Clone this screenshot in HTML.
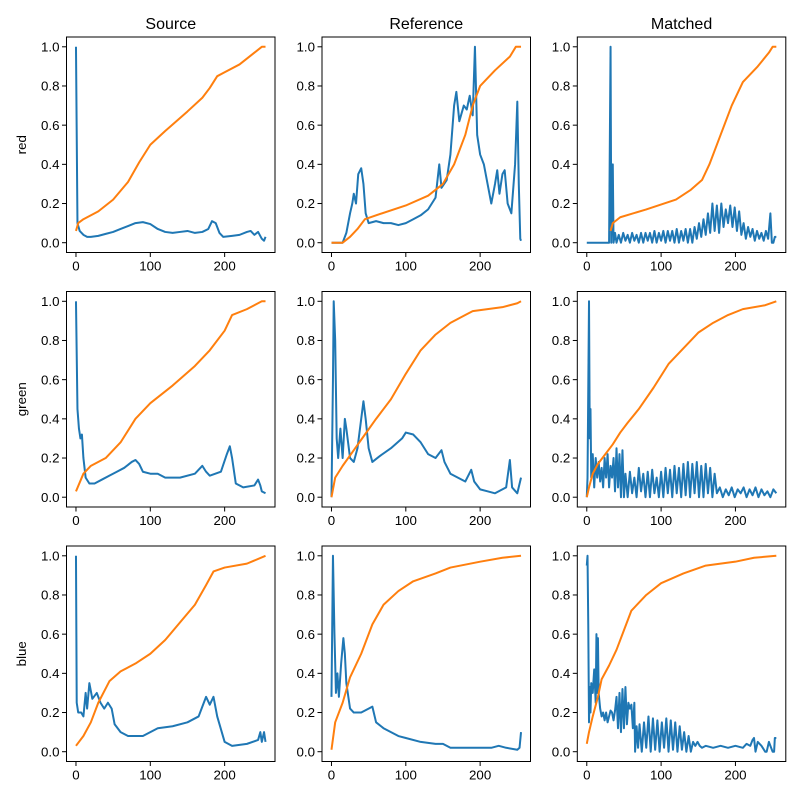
<!DOCTYPE html>
<html><head><meta charset="utf-8"><style>
body{margin:0;background:#fff}
svg text{font-family:"Liberation Sans","DejaVu Sans",sans-serif;fill:#000}
</style></head><body>
<svg id="fig" width="800" height="800" xmlns="http://www.w3.org/2000/svg"></svg>
<script>
// ---- data ----
const colTitles = ["Source","Reference","Matched"];
const rowLabels = ["red","green","blue"];
const xTicks = [0,100,200];
const yTicks = [0.0,0.2,0.4,0.6,0.8,1.0];

const srcRedHx = [0,2,5,10,15,20,30,40,50,60,70,80,90,100,110,120,130,140,150,160,170,178,183,188,193,198,210,220,230,235,240,245,250,253,255];
const srcRedHy = [1.0,0.1,0.06,0.04,0.03,0.03,0.035,0.045,0.055,0.07,0.085,0.1,0.105,0.095,0.07,0.055,0.05,0.055,0.06,0.05,0.055,0.07,0.11,0.1,0.05,0.03,0.035,0.04,0.055,0.06,0.04,0.055,0.02,0.01,0.03];
const srcRedCx = [0,3,10,30,50,70,85,100,120,150,170,180,190,200,220,240,250,255];
const srcRedCy = [0.06,0.1,0.12,0.16,0.22,0.31,0.41,0.5,0.57,0.67,0.74,0.79,0.85,0.87,0.91,0.97,1.0,1.0];

const refRedHx = [0,15,20,25,28,30,33,36,40,43,46,50,60,70,80,90,100,110,120,130,140,145,148,155,160,165,168,172,178,182,186,190,193,196,200,205,210,215,220,223,226,230,233,237,242,247,250,252,254,255];
const refRedHy = [0,0,0.05,0.15,0.2,0.25,0.2,0.35,0.38,0.3,0.15,0.1,0.11,0.1,0.1,0.09,0.1,0.12,0.14,0.17,0.23,0.4,0.28,0.32,0.45,0.7,0.77,0.62,0.7,0.68,0.75,0.65,1.0,0.55,0.45,0.4,0.3,0.2,0.3,0.37,0.25,0.35,0.37,0.2,0.15,0.4,0.72,0.3,0.02,0.01];
const refRedCx = [0,15,25,35,45,60,100,130,150,165,180,190,200,220,240,248,255];
const refRedCy = [0,0,0.03,0.07,0.12,0.14,0.19,0.24,0.3,0.4,0.55,0.7,0.8,0.88,0.95,1.0,1.0];

const matRedHx = [0,30,32,33,35,36,38,40,43,46,49,52,55,58,61,64,67,70,73,76,79,82,85,88,91,94,97,100,103,106,109,112,115,118,121,124,127,130,133,136,139,142,145,148,151,154,157,160,163,166,169,172,175,178,181,184,187,190,193,196,199,202,205,208,211,214,217,220,223,226,229,232,235,238,241,244,247,249,251,253,255];
const matRedHy = [0,0,1.0,0,0.4,0,0.05,0,0.04,0,0.05,0.01,0.04,0,0.05,0.01,0.04,0,0.05,0,0.05,0.01,0.05,0,0.06,0,0.05,0.01,0.06,0,0.06,0.01,0.06,0,0.07,0,0.06,0.01,0.07,0,0.07,0,0.08,0.02,0.1,0.03,0.12,0.04,0.15,0.05,0.2,0.06,0.19,0.05,0.2,0.08,0.17,0.1,0.19,0.08,0.18,0.06,0.16,0.04,0.1,0.02,0.08,0.03,0.07,0.01,0.06,0.02,0.05,0.01,0.06,0.02,0.15,0,0,0.03,0.03];
const matRedCx = [32,35,45,80,120,140,155,165,180,195,210,230,245,250,255];
const matRedCy = [0.06,0.1,0.13,0.17,0.22,0.27,0.32,0.4,0.55,0.7,0.82,0.9,0.97,1.0,1.0];

const srcGreenHx = [0,2,4,6,8,10,13,18,25,35,45,55,65,75,80,85,90,100,110,120,140,160,170,175,180,195,203,207,210,215,225,240,245,248,250,255];
const srcGreenHy = [1.0,0.45,0.35,0.3,0.32,0.2,0.1,0.07,0.07,0.09,0.11,0.13,0.15,0.18,0.19,0.17,0.13,0.12,0.12,0.1,0.1,0.12,0.16,0.13,0.11,0.13,0.22,0.26,0.2,0.07,0.05,0.06,0.09,0.06,0.03,0.02];
const srcGreenCx = [0,10,20,40,60,80,100,130,160,180,200,210,230,250,255];
const srcGreenCy = [0.03,0.12,0.16,0.2,0.28,0.4,0.48,0.57,0.67,0.75,0.85,0.93,0.96,1.0,1.0];

const refGreenHx = [0,2,3,5,7,9,12,15,18,20,25,30,35,40,43,46,50,55,65,80,95,100,110,120,130,140,148,152,160,170,180,188,192,200,210,220,235,240,243,250,255];
const refGreenHy = [0,0.6,1.0,0.8,0.3,0.2,0.35,0.2,0.4,0.35,0.2,0.18,0.25,0.4,0.49,0.4,0.25,0.18,0.21,0.25,0.3,0.33,0.32,0.28,0.22,0.2,0.24,0.18,0.12,0.1,0.08,0.14,0.08,0.04,0.03,0.02,0.05,0.19,0.05,0.02,0.1];
const refGreenCx = [0,5,15,30,45,60,80,100,120,140,160,180,190,230,250,255];
const refGreenCy = [0,0.1,0.16,0.24,0.32,0.4,0.5,0.63,0.75,0.83,0.89,0.93,0.95,0.97,0.99,1.0];

const matGreenHx = [0,1,3,4,5,6,8,10,12,14,16,18,20,22,24,26,28,30,32,34,36,38,40,42,44,46,48,50,52,55,58,61,64,67,70,73,76,79,82,85,88,91,94,97,100,103,106,109,112,115,118,121,124,127,130,133,136,139,142,145,148,151,154,157,160,163,166,169,172,175,179,183,187,191,195,199,203,207,211,215,219,223,227,231,235,239,243,247,251,255];
const matGreenHy = [0,0.1,1.0,0.3,0.45,0.1,0.22,0.05,0.2,0.1,0.18,0.08,0.15,0.05,0.2,0.1,0.22,0.05,0.16,0.1,0.2,0.03,0.25,0.05,0.22,0,0.24,0,0.12,0,0.13,0.02,0.1,0,0.15,0.03,0.12,0,0.13,0,0.14,0.02,0.1,0,0.13,0,0.15,0.02,0.14,0,0.16,0.02,0.15,0,0.17,0.01,0.18,0,0.17,0.02,0.18,0,0.16,0,0.17,0.02,0.15,0,0.12,0.02,0.05,0,0.04,0.01,0.05,0,0.04,0.02,0.05,0,0.04,0.01,0.05,0,0.04,0.01,0.03,0,0.04,0.02];
const matGreenCx = [0,3,8,15,25,35,45,55,70,90,110,130,150,170,190,210,240,255];
const matGreenCy = [0,0.05,0.12,0.17,0.22,0.27,0.33,0.38,0.45,0.56,0.68,0.76,0.84,0.89,0.93,0.96,0.98,1.0];

const srcBlueHx = [0,1,3,7,10,13,15,18,22,28,33,38,43,48,52,60,70,90,100,110,130,150,165,170,175,180,185,190,200,210,230,245,248,250,253,255];
const srcBlueHy = [1.0,0.25,0.2,0.2,0.18,0.3,0.22,0.35,0.27,0.3,0.25,0.22,0.25,0.22,0.14,0.1,0.08,0.08,0.1,0.12,0.13,0.15,0.18,0.23,0.28,0.24,0.28,0.18,0.05,0.03,0.04,0.06,0.1,0.05,0.1,0.05];
const srcBlueCx = [0,10,20,30,45,60,80,100,120,140,160,175,185,200,230,255];
const srcBlueCy = [0.03,0.08,0.15,0.25,0.36,0.41,0.45,0.5,0.57,0.66,0.75,0.85,0.92,0.94,0.96,1.0];

const refBlueHx = [0,2,4,6,8,10,13,16,18,20,25,30,40,50,55,60,70,80,90,100,120,140,150,160,180,200,215,225,235,250,253,255];
const refBlueHy = [0.28,1.0,0.6,0.3,0.4,0.28,0.45,0.58,0.5,0.35,0.22,0.2,0.2,0.22,0.23,0.15,0.12,0.1,0.08,0.07,0.05,0.04,0.04,0.02,0.02,0.02,0.02,0.03,0.02,0.01,0.02,0.1];
const refBlueCx = [0,5,15,25,40,55,70,90,110,140,160,200,230,255];
const refBlueCy = [0.01,0.15,0.25,0.38,0.5,0.65,0.75,0.82,0.87,0.91,0.94,0.97,0.99,1.0];

const matBlueHx = [0,1,2,3,4,5,6,8,10,12,13,14,15,16,18,20,22,24,26,28,30,32,34,36,38,40,42,44,46,48,50,52,54,56,58,60,62,64,65,67,69,71,74,77,80,83,86,89,92,95,98,101,104,107,110,113,116,119,122,125,128,131,134,137,140,143,146,149,152,155,160,170,180,190,200,210,215,220,223,225,227,230,235,240,242,245,250,252,253,255];
const matBlueHy = [0.95,1.0,0.65,0.15,0.33,0.2,0.35,0.3,0.42,0.25,0.6,0.3,0.58,0.3,0.22,0.18,0.2,0.16,0.2,0.15,0.18,0.21,0.2,0.16,0.21,0.28,0.12,0.3,0.1,0.32,0.12,0.33,0.14,0.25,0.22,0.24,0.12,0.25,0,0.13,0.02,0.14,0,0.15,0.02,0.18,0,0.17,0.01,0.16,0,0.15,0.02,0.17,0,0.16,0.01,0.15,0,0.13,0.01,0.1,0,0.08,0,0.05,0.03,0.05,0.03,0.02,0.03,0.02,0.03,0.02,0.03,0.02,0.04,0.03,0.06,0.07,0,0.05,0.03,0,0,0.05,0,0,0.07,0.07];
const matBlueCx = [0,3,8,15,20,30,40,50,60,80,100,130,160,200,225,255];
const matBlueCy = [0.04,0.1,0.18,0.28,0.37,0.44,0.52,0.62,0.72,0.8,0.86,0.91,0.95,0.97,0.99,1.0];

const panels = [
 [[srcRedHx,srcRedHy,srcRedCx,srcRedCy],[refRedHx,refRedHy,refRedCx,refRedCy],[matRedHx,matRedHy,matRedCx,matRedCy]],
 [[srcGreenHx,srcGreenHy,srcGreenCx,srcGreenCy],[refGreenHx,refGreenHy,refGreenCx,refGreenCy],[matGreenHx,matGreenHy,matGreenCx,matGreenCy]],
 [[srcBlueHx,srcBlueHy,srcBlueCx,srcBlueCy],[refBlueHx,refBlueHy,refBlueCx,refBlueCy],[matBlueHx,matBlueHy,matBlueCx,matBlueCy]]
];

// ---- layout ----
const NS = "http://www.w3.org/2000/svg";
const svg = document.getElementById('fig');
const colLeft = [66.5,322,577.3], axW = 208.5;
const rowTop = [37,291.5,546], axH = 215.5;
const X0 = -12.75, X1 = 267.75, Y0 = -0.05, Y1 = 1.05;
function mk(tag, attrs, parent){ const e=document.createElementNS(NS,tag); for(const k in attrs) e.setAttribute(k,attrs[k]); (parent||svg).appendChild(e); return e; }

for(let r=0;r<3;r++){
 for(let c=0;c<3;c++){
  const L=colLeft[c], T=rowTop[r];
  const sx = v => L + (v-X0)/(X1-X0)*axW;
  const sy = v => T + axH - (v-Y0)/(Y1-Y0)*axH;
  const g = mk('g',{});
  
  
  const clipId='clip'+r+c;
  const cp=mk('clipPath',{id:clipId},g); mk('rect',{x:L,y:T,width:axW,height:axH},cp);
  const [hx,hy,cx,cy]=panels[r][c];
  let d=''; const n=Math.min(hx.length,hy.length);
  for(let i=0;i<n;i++) d+=(i?'L':'M')+sx(hx[i]).toFixed(2)+' '+sy(hy[i]).toFixed(2);
  const hp=mk('path',{d:d,fill:'none',stroke:'#1f77b4','stroke-width':2,'stroke-linejoin':'round','clip-path':'url(#'+clipId+')'},g);
  
  
  d=''; const m=Math.min(cx.length,cy.length);
  for(let i=0;i<m;i++) d+=(i?'L':'M')+sx(cx[i]).toFixed(2)+' '+sy(cy[i]).toFixed(2);
  const cpth=mk('path',{d:d,fill:'none',stroke:'#ff7f0e','stroke-width':2,'stroke-linejoin':'round','clip-path':'url(#'+clipId+')'},g);
  
  
  const fr=mk('rect',{x:L,y:T,width:axW,height:axH,fill:'none',stroke:'#000','stroke-width':1},g);
  
  
  for(const t of xTicks){
   const x=sx(t);
   mk('line',{x1:x,x2:x,y1:T+axH,y2:T+axH+4.5,stroke:'#000','stroke-width':1},g);
   const tx=mk('text',{x:x,y:T+axH+18,'text-anchor':'middle','font-size':13.3},g);
   tx.textContent=t;
   
   
  }
  for(const t of yTicks){
   const y=sy(t);
   mk('line',{x1:L-4.5,x2:L,y1:y,y2:y,stroke:'#000','stroke-width':1},g);
   const ty=mk('text',{x:L-7,y:y+4.7,'text-anchor':'end','font-size':13.3},g);
   ty.textContent=t.toFixed(1);
   
   
  }
  if(r===0){
   const tt=mk('text',{x:L+axW/2,y:T-8,'text-anchor':'middle','font-size':16},g);
   tt.textContent=colTitles[c];
   
   
  }
  if(c===0){
   const yl=mk('text',{x:0,y:0,'text-anchor':'middle','font-size':13.3,transform:'translate(26,'+(T+axH/2)+') rotate(-90)'},g);
   yl.textContent=rowLabels[r];
   
   
  }
 }
}
</script>
</body></html>
